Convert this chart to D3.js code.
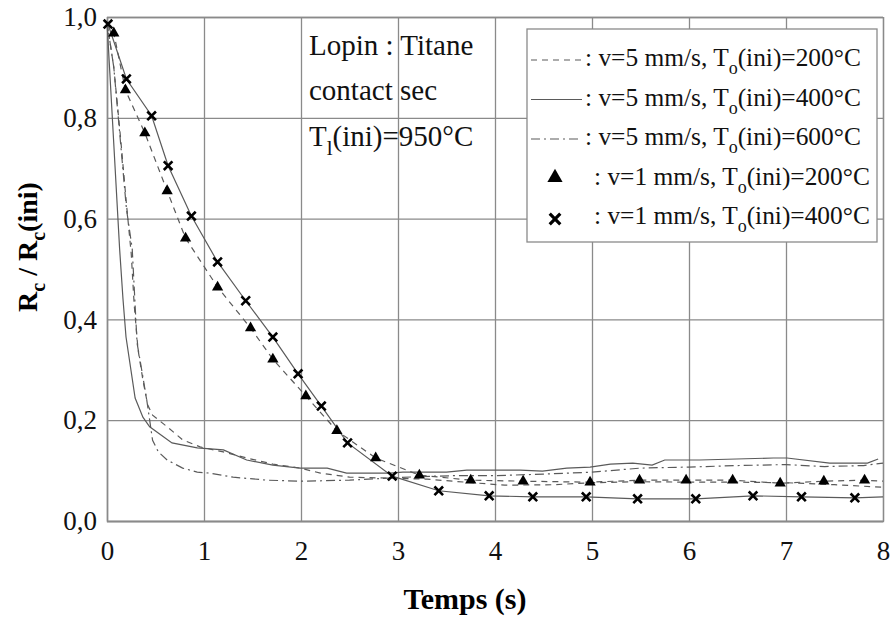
<!DOCTYPE html>
<html>
<head>
<meta charset="utf-8">
<script src="https://cdn.jsdelivr.net/npm/d3@7"></script>
<style>
  body { margin: 0; background: #fff; }
</style>
</head>
<body>
<svg id="chart" width="893" height="618"></svg>
<script>
// ticks
const xTicks = [0, 1, 2, 3, 4, 5, 6, 7, 8]
const yTicks = [0, 0.2, 0.4, 0.6, 0.8, 1.0]

// v = 5 mm/s curves [t (s), Rc/Rc(ini)]
const v5T200 = [[0, 0.99], [0.07, 0.9], [0.14, 0.76], [0.2, 0.63], [0.25, 0.53], [0.28, 0.43], [0.32, 0.34], [0.37, 0.28], [0.42, 0.23], [0.47, 0.21], [0.62, 0.187], [0.78, 0.161], [0.96, 0.147], [1.2, 0.137], [1.44, 0.125], [1.71, 0.113], [1.99, 0.105], [2.2, 0.095], [2.5, 0.087], [2.9, 0.085], [3.3, 0.083], [3.7, 0.077], [4.1, 0.071], [4.6, 0.072], [5.0, 0.076], [5.5, 0.078], [6.0, 0.077], [6.5, 0.077], [7.0, 0.076], [7.5, 0.072], [8.0, 0.067]]
const v5T400 = [[0, 0.99], [0.13, 0.54], [0.165, 0.44], [0.196, 0.365], [0.29, 0.244], [0.37, 0.206], [0.44, 0.187], [0.67, 0.155], [0.93, 0.145], [1.2, 0.141], [1.44, 0.121], [1.71, 0.111], [1.99, 0.105], [2.27, 0.105], [2.47, 0.095], [2.92, 0.095], [3.05, 0.097], [3.5, 0.097], [3.71, 0.101], [4.26, 0.101], [4.49, 0.099], [4.74, 0.105], [4.98, 0.107], [5.19, 0.113], [5.42, 0.115], [5.62, 0.111], [5.75, 0.121], [6.11, 0.121], [6.87, 0.125], [7.01, 0.125], [7.45, 0.115], [7.84, 0.115], [7.95, 0.123]]
const v5T600 = [[0, 0.99], [0.07, 0.9], [0.14, 0.75], [0.2, 0.62], [0.26, 0.54], [0.31, 0.353], [0.34, 0.32], [0.41, 0.24], [0.47, 0.16], [0.53, 0.137], [0.62, 0.121], [0.78, 0.105], [0.93, 0.097], [1.06, 0.095], [1.3, 0.087], [1.65, 0.081], [1.99, 0.079], [2.5, 0.081], [2.9, 0.085], [3.2, 0.088], [3.6, 0.09], [4.0, 0.09], [4.5, 0.093], [5.0, 0.097], [5.5, 0.105], [6.0, 0.107], [6.5, 0.11], [7.0, 0.112], [7.4, 0.108], [7.8, 0.11], [8.0, 0.115]]

// v = 1 mm/s measured points
const v1T200 = [[0.07, 0.968], [0.19, 0.855], [0.39, 0.77], [0.62, 0.655], [0.81, 0.561], [1.14, 0.464], [1.48, 0.383], [1.71, 0.321], [2.05, 0.248], [2.37, 0.179], [2.77, 0.125], [3.22, 0.091], [3.75, 0.081], [4.29, 0.079], [4.98, 0.077], [5.49, 0.081], [5.97, 0.081], [6.45, 0.081], [6.94, 0.075], [7.39, 0.079], [7.81, 0.081]]
const v1T400 = [[0.01, 0.986], [0.2, 0.877], [0.46, 0.804], [0.63, 0.705], [0.87, 0.605], [1.14, 0.514], [1.43, 0.437], [1.71, 0.365], [1.97, 0.292], [2.21, 0.228], [2.48, 0.155], [2.94, 0.089], [3.42, 0.06], [3.94, 0.05], [4.39, 0.048], [4.94, 0.048], [5.47, 0.044], [6.07, 0.044], [6.66, 0.05], [7.16, 0.048], [7.71, 0.046]]

const legendLabels = [
  ['v=5 mm/s, T', 'o', '(ini)=200°C'],
  ['v=5 mm/s, T', 'o', '(ini)=400°C'],
  ['v=5 mm/s, T', 'o', '(ini)=600°C'],
  ['v=1 mm/s, T', 'o', '(ini)=200°C'],
  ['v=1 mm/s, T', 'o', '(ini)=400°C']
]
const noteLines = ['Lopin : Titane', 'contact sec']

const plotL = 107, plotR = 883, plotT = 17, plotB = 521
const gridColor = '#8a8a8a'
const lineColor = '#5a5a5a'
const dashed = '6,5'
const dashDot = '9,4,2,4'

const x = d3.scaleLinear().domain([0, 8]).range([plotL, plotR])
const y = d3.scaleLinear().domain([0, 1]).range([plotB, plotT])
const comma = v => d3.format('.1f')(v).replace('.', ',')

const svg = d3.select('#chart')

// grid + axes
const gx = svg.append('g')
  .attr('transform', 'translate(0,' + plotB + ')')
  .call(d3.axisBottom(x).tickValues(xTicks).tickSize(-(plotB - plotT)).tickPadding(20).tickFormat(d3.format('d')))
const gy = svg.append('g')
  .attr('transform', 'translate(' + plotL + ',0)')
  .call(d3.axisLeft(y).tickValues(yTicks).tickSize(-(plotR - plotL)).tickPadding(10).tickFormat(comma))
;[gx, gy].forEach(g => {
  g.attr('font-size', 27)
  g.select('.domain').attr('stroke', gridColor).attr('stroke-width', 1.3)
  g.selectAll('.tick line').attr('stroke', gridColor).attr('stroke-width', 1.3)
  g.selectAll('.tick text').attr('fill', '#111')
})

const line = d3.line().x(d => x(d[0])).y(d => y(d[1]))

const curves = [
  { data: v5T200, dash: dashed },
  { data: v5T400, dash: null },
  { data: v5T600, dash: dashDot },
  { data: v1T200, dash: dashed, start: [0, 0.99], end: [8, 0.079] },
  { data: v1T400, dash: null, end: [8, 0.048] }
]
curves.forEach(c => {
  let pts = c.data.slice()
  if (c.start) pts.unshift(c.start)
  if (c.end) pts.push(c.end)
  svg.append('path')
    .attr('d', line(pts))
    .attr('fill', 'none')
    .attr('stroke', lineColor)
    .attr('stroke-width', 1.2)
    .attr('stroke-dasharray', c.dash)
})

const tri = d3.symbol(d3.symbolTriangle, 55)
const cross = d3.symbol(d3.symbolTimes, 50)

svg.append('g').selectAll('path')
  .data(v1T200)
  .join('path')
  .attr('d', tri)
  .attr('transform', d => 'translate(' + x(d[0]) + ',' + y(d[1]) + ')')
  .attr('fill', '#000')

svg.append('g').selectAll('path')
  .data(v1T400)
  .join('path')
  .attr('d', cross)
  .attr('transform', d => 'translate(' + x(d[0]) + ',' + y(d[1]) + ')')
  .attr('fill', 'none')
  .attr('stroke', '#000')
  .attr('stroke-width', 2.6)

// annotation
const note = svg.append('g').attr('font-size', 29).attr('fill', '#111')
noteLines.forEach((t, i) => {
  note.append('text').attr('x', 309).attr('y', 55 + i * 45).text(t)
})
const t3 = note.append('text').attr('x', 309).attr('y', 146)
t3.append('tspan').text('T')
t3.append('tspan').attr('dy', 9).attr('font-size', 21).text('l')
t3.append('tspan').attr('dy', -9).text('(ini)=950°C')

// legend
const lg = svg.append('g')
lg.append('rect')
  .attr('x', 527).attr('y', 29).attr('width', 350).attr('height', 213)
  .attr('fill', '#fff').attr('stroke', gridColor).attr('stroke-width', 1.3)

legendLabels.forEach((lab, i) => {
  const cy = 60 + i * 39.5
  if (i < 3) {
    lg.append('line')
      .attr('x1', 531).attr('x2', 582).attr('y1', cy).attr('y2', cy)
      .attr('stroke', lineColor).attr('stroke-width', 1.2)
      .attr('stroke-dasharray', [dashed, null, dashDot][i])
  } else if (i === 3) {
    lg.append('path').attr('d', d3.symbol(d3.symbolTriangle, 100)())
      .attr('transform', 'translate(555,' + (cy - 1) + ')').attr('fill', '#000')
  } else {
    lg.append('path').attr('d', d3.symbol(d3.symbolTimes, 75)())
      .attr('transform', 'translate(555,' + (cy + 1) + ')')
      .attr('fill', 'none').attr('stroke', '#000').attr('stroke-width', 3.2)
  }
  const tx = lg.append('text')
    .attr('x', i < 3 ? 585 : 594).attr('y', cy + 6)
    .attr('font-size', 25.4).attr('fill', '#111')
  tx.append('tspan').text(': ' + lab[0])
  tx.append('tspan').attr('dy', 8).attr('font-size', 18).text(lab[1])
  tx.append('tspan').attr('dy', -8).text(lab[2])
})

// axis titles
svg.append('text')
  .attr('x', 465).attr('y', 609)
  .attr('text-anchor', 'middle')
  .attr('font-size', 30).attr('font-weight', 'bold')
  .text('Temps (s)')

const yt = svg.append('text')
  .attr('transform', 'translate(37,247) rotate(-90)')
  .attr('text-anchor', 'middle')
  .attr('font-size', 28).attr('font-weight', 'bold')
yt.append('tspan').text('R')
yt.append('tspan').attr('dy', 8).attr('font-size', 20).text('c')
yt.append('tspan').attr('dy', -8).text(' / R')
yt.append('tspan').attr('dy', 8).attr('font-size', 20).text('c')
yt.append('tspan').attr('dy', -8).text('(ini)')

// serif font on every text node
svg.selectAll('text').style('font-family', "'Liberation Serif'")
</script>
</body>
</html>
